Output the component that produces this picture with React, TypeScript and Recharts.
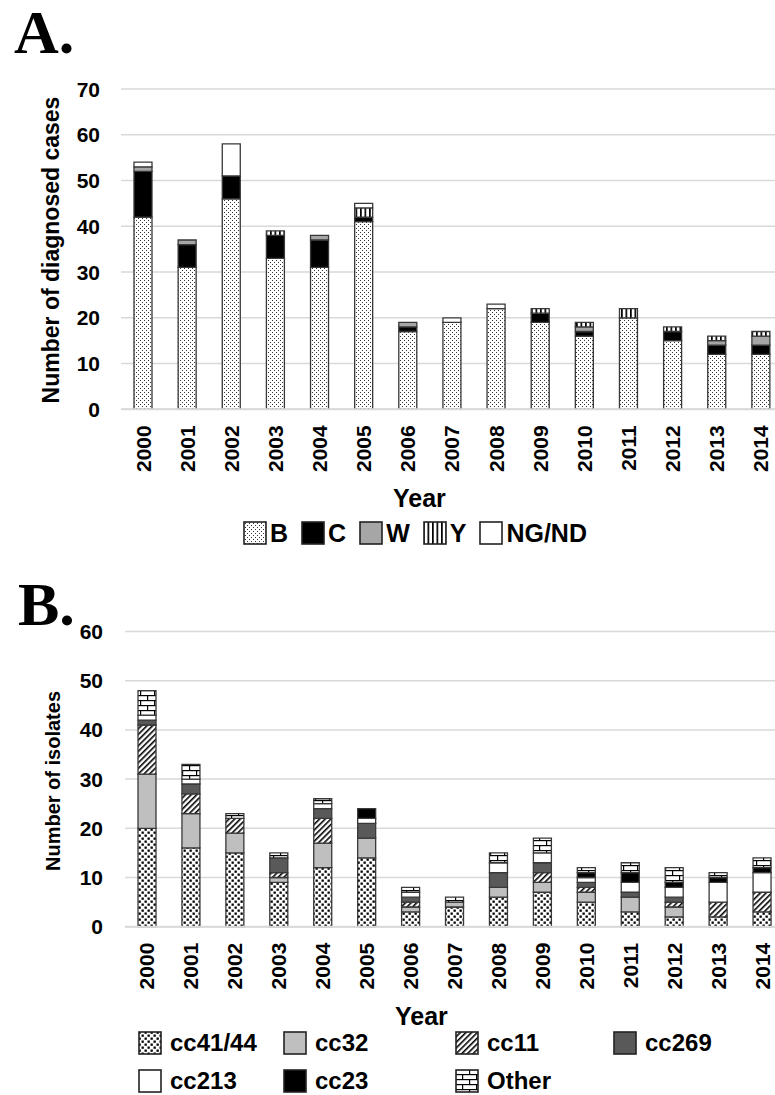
import React from "react";
import { BarChart, Bar, XAxis, YAxis, CartesianGrid } from "recharts";

const FONT = '"Liberation Sans", Arial, sans-serif';

const years = [
  "2000", "2001", "2002", "2003", "2004", "2005", "2006", "2007",
  "2008", "2009", "2010", "2011", "2012", "2013", "2014",
];

// A. diagnosed cases by serogroup
const serogroupB = [42, 31, 46, 33, 31, 41, 17, 19, 22, 19, 16, 20, 15, 12, 12];
const serogroupC = [10, 5, 5, 5, 6, 1, 1, 0, 0, 2, 1, 0, 2, 2, 2];
const serogroupW = [1, 1, 0, 0, 1, 0, 1, 0, 0, 0, 1, 0, 0, 1, 2];
const serogroupY = [0, 0, 0, 1, 0, 2, 0, 0, 0, 1, 1, 2, 1, 1, 1];
const notGrouped = [1, 0, 7, 0, 0, 1, 0, 1, 1, 0, 0, 0, 0, 0, 0];
const ticksA = [0, 10, 20, 30, 40, 50, 60, 70];

// B. isolates by clonal complex
const cc41 = [20, 16, 15, 9, 12, 14, 3, 4, 6, 7, 5, 3, 2, 2, 3];
const cc32 = [11, 7, 4, 1, 5, 4, 1, 1, 2, 2, 2, 3, 2, 0, 0];
const cc11 = [10, 4, 3, 1, 5, 0, 1, 0, 0, 2, 1, 0, 1, 3, 4];
const cc269 = [1, 2, 0, 3, 2, 3, 1, 0, 3, 2, 1, 1, 1, 0, 0];
const cc213 = [1, 1, 0, 0, 1, 1, 1, 0, 2, 2, 1, 2, 2, 4, 4];
const cc23 = [0, 0, 0, 0, 0, 2, 0, 0, 0, 0, 1, 2, 1, 1, 1];
const ccOther = [5, 3, 1, 1, 1, 0, 1, 1, 2, 3, 1, 2, 3, 1, 2];
const ticksB = [0, 10, 20, 30, 40, 50, 60];

const casesData = years.map((year, i) => ({
  year,
  B: serogroupB[i],
  C: serogroupC[i],
  W: serogroupW[i],
  Y: serogroupY[i],
  NG: notGrouped[i],
}));

const isolatesData = years.map((year, i) => ({
  year,
  cc41: cc41[i],
  cc32: cc32[i],
  cc11: cc11[i],
  cc269: cc269[i],
  cc213: cc213[i],
  cc23: cc23[i],
  other: ccOther[i],
}));

const casesSeries = [
  { key: "B", name: "B", fill: "url(#patB)" },
  { key: "C", name: "C", fill: "#000000" },
  { key: "W", name: "W", fill: "#a6a6a6" },
  { key: "Y", name: "Y", fill: "url(#patY)" },
  { key: "NG", name: "NG/ND", fill: "#ffffff" },
];

const isolatesSeries = [
  { key: "cc41", name: "cc41/44", fill: "url(#patCC41)" },
  { key: "cc32", name: "cc32", fill: "#bfbfbf" },
  { key: "cc11", name: "cc11", fill: "url(#patCC11)" },
  { key: "cc269", name: "cc269", fill: "#595959" },
  { key: "cc213", name: "cc213", fill: "#ffffff" },
  { key: "cc23", name: "cc23", fill: "#000000" },
  { key: "other", name: "Other", fill: "url(#patOther)" },
];

const STROKE = "#383838";

const textStyle = { fontFamily: FONT, fontWeight: 700, fill: "#000" };

const yTick = (rightX: number) => (p: any) => (
  <text x={rightX} y={p.y} textAnchor="end" dominantBaseline="central" fontSize={21} style={textStyle}>
    {p.payload.value}
  </text>
);

const xTick = (topY: number) => (p: any) => (
  <text
    x={p.x}
    y={topY}
    transform={`rotate(-90 ${p.x} ${topY})`}
    textAnchor="end"
    dominantBaseline="central"
    fontSize={21}
    style={textStyle}
  >
    {p.payload.value}
  </text>
);

function Patterns() {
  return (
    <svg width={0} height={0} style={{ position: "absolute" }}>
      <defs>
        <pattern id="patB" width="4" height="4" patternUnits="userSpaceOnUse">
          <rect width="4" height="4" fill="#fff" />
          <rect x="0" y="0" width="1" height="1" fill="#333" />
          <rect x="2" y="2" width="1" height="1" fill="#333" />
        </pattern>
        <pattern id="patY" width="4.5" height="10" patternUnits="userSpaceOnUse">
          <rect width="4.5" height="10" fill="#fff" />
          <rect x="0" y="0" width="1.7" height="10" fill="#000" />
        </pattern>
        <pattern id="patCC41" width="6" height="6" patternUnits="userSpaceOnUse">
          <rect width="6" height="6" fill="#fff" />
          <rect x="0.5" y="0.5" width="2.3" height="2.3" fill="#000" />
          <rect x="3.5" y="3.5" width="2.3" height="2.3" fill="#000" />
        </pattern>
        <pattern id="patCC11" width="4" height="4" patternUnits="userSpaceOnUse" patternTransform="rotate(45)">
          <rect width="4" height="4" fill="#fff" />
          <rect x="0" y="0" width="1.6" height="4" fill="#000" />
        </pattern>
        <pattern id="patOther" width="14" height="10" patternUnits="userSpaceOnUse">
          <rect width="14" height="10" fill="#fff" />
          <rect x="0" y="0" width="14" height="1.2" fill="#000" />
          <rect x="0" y="5" width="14" height="1.2" fill="#000" />
          <rect x="0" y="0" width="1.2" height="5" fill="#000" />
          <rect x="7" y="5" width="1.2" height="5" fill="#000" />
        </pattern>
      </defs>
    </svg>
  );
}

function Swatch({ fill }: { fill: string }) {
  return (
    <svg width={24} height={24} style={{ display: "block", flex: "none" }}>
      <rect x={1} y={1} width={22} height={22} fill={fill} stroke="#222" strokeWidth={1.6} />
    </svg>
  );
}

const abs = (left: number, top: number, extra: React.CSSProperties = {}): React.CSSProperties => ({
  position: "absolute",
  left,
  top,
  whiteSpace: "nowrap",
  fontFamily: FONT,
  fontWeight: 700,
  color: "#000",
  ...extra,
});

const SERIF = '"Liberation Serif", "Times New Roman", serif';

export default function App() {
  return (
    <div style={{ position: "fixed", left: 0, top: 0, width: 775, height: 1095, overflow: "hidden", background: "#fff" }}>
      <Patterns />

      <div style={abs(14, 4, { fontFamily: SERIF, fontSize: 62, lineHeight: "56px" })}>A.</div>
      <div style={abs(18, 576, { fontFamily: SERIF, fontSize: 62, lineHeight: "56px" })}>B.</div>

      <div style={{ position: "absolute", left: 0, top: 0 }}>
        <BarChart width={790} height={500} data={casesData} margin={{ top: 89, right: 7, bottom: 0, left: 0 }} barSize={18}>
          <CartesianGrid vertical={false} stroke="#d9d9d9" strokeWidth={1.5} />
          <XAxis
            dataKey="year"
            interval={0}
            height={90.7}
            tickLine={false}
            axisLine={{ stroke: "#d9d9d9", strokeWidth: 2 }}
            tick={xTick(425.3)}
          />
          <YAxis width={121} domain={[0, 70]} ticks={ticksA} axisLine={false} tickLine={false} tick={yTick(100)} />
          {casesSeries.map((s) => (
            <Bar key={s.key} dataKey={s.key} name={s.name} stackId="a" fill={s.fill} stroke={STROKE} strokeWidth={1.3} isAnimationActive={false} />
          ))}
        </BarChart>
      </div>

      <div style={{ position: "absolute", left: 0, top: 600 }}>
        <BarChart width={790} height={406.7} data={isolatesData} margin={{ top: 31.5, right: 6, bottom: 0, left: 0 }} barSize={18}>
          <CartesianGrid vertical={false} stroke="#d9d9d9" strokeWidth={1.5} />
          <XAxis
            dataKey="year"
            interval={0}
            height={80}
            tickLine={false}
            axisLine={{ stroke: "#d9d9d9", strokeWidth: 2 }}
            tick={xTick(342.7)}
          />
          <YAxis width={125} domain={[0, 60]} ticks={ticksB} axisLine={false} tickLine={false} tick={yTick(103)} />
          {isolatesSeries.map((s) => (
            <Bar key={s.key} dataKey={s.key} name={s.name} stackId="b" fill={s.fill} stroke={STROKE} strokeWidth={1.3} isAnimationActive={false} />
          ))}
        </BarChart>
      </div>

      {/* axis titles */}
      <div style={abs(51, 250, { fontSize: 23, lineHeight: 1, transform: "translate(-50%, -50%) rotate(-90deg)" })}>
        Number of diagnosed cases
      </div>
      <div style={abs(53, 781, { fontSize: 20, lineHeight: 1, transform: "translate(-50%, -50%) rotate(-90deg)" })}>
        Number of isolates
      </div>
      <div style={abs(393, 486, { fontSize: 25, lineHeight: 1 })}>Year</div>
      <div style={abs(395, 1004, { fontSize: 25, lineHeight: 1 })}>Year</div>

      {/* legend A */}
      <div style={abs(243, 521, { display: "flex", alignItems: "center", height: 24, fontSize: 25, lineHeight: "24px" })}>
        {casesSeries.map((s) => (
          <div key={s.key} style={{ display: "flex", alignItems: "center", marginRight: 13 }}>
            <Swatch fill={s.fill} />
            <span style={{ marginLeft: 3 }}>{s.name}</span>
          </div>
        ))}
      </div>

      {/* legend B */}
      {isolatesSeries.map((s, i) => {
        const cols = [138, 283, 455, 613];
        const left = cols[i % 4];
        const top = i < 4 ? 1031 : 1069;
        return (
          <div key={s.key} style={abs(left, top, { display: "flex", alignItems: "center", height: 24, fontSize: 24, lineHeight: "24px" })}>
            <Swatch fill={s.fill} />
            <span style={{ marginLeft: 8 }}>{s.name}</span>
          </div>
        );
      })}
    </div>
  );
}
